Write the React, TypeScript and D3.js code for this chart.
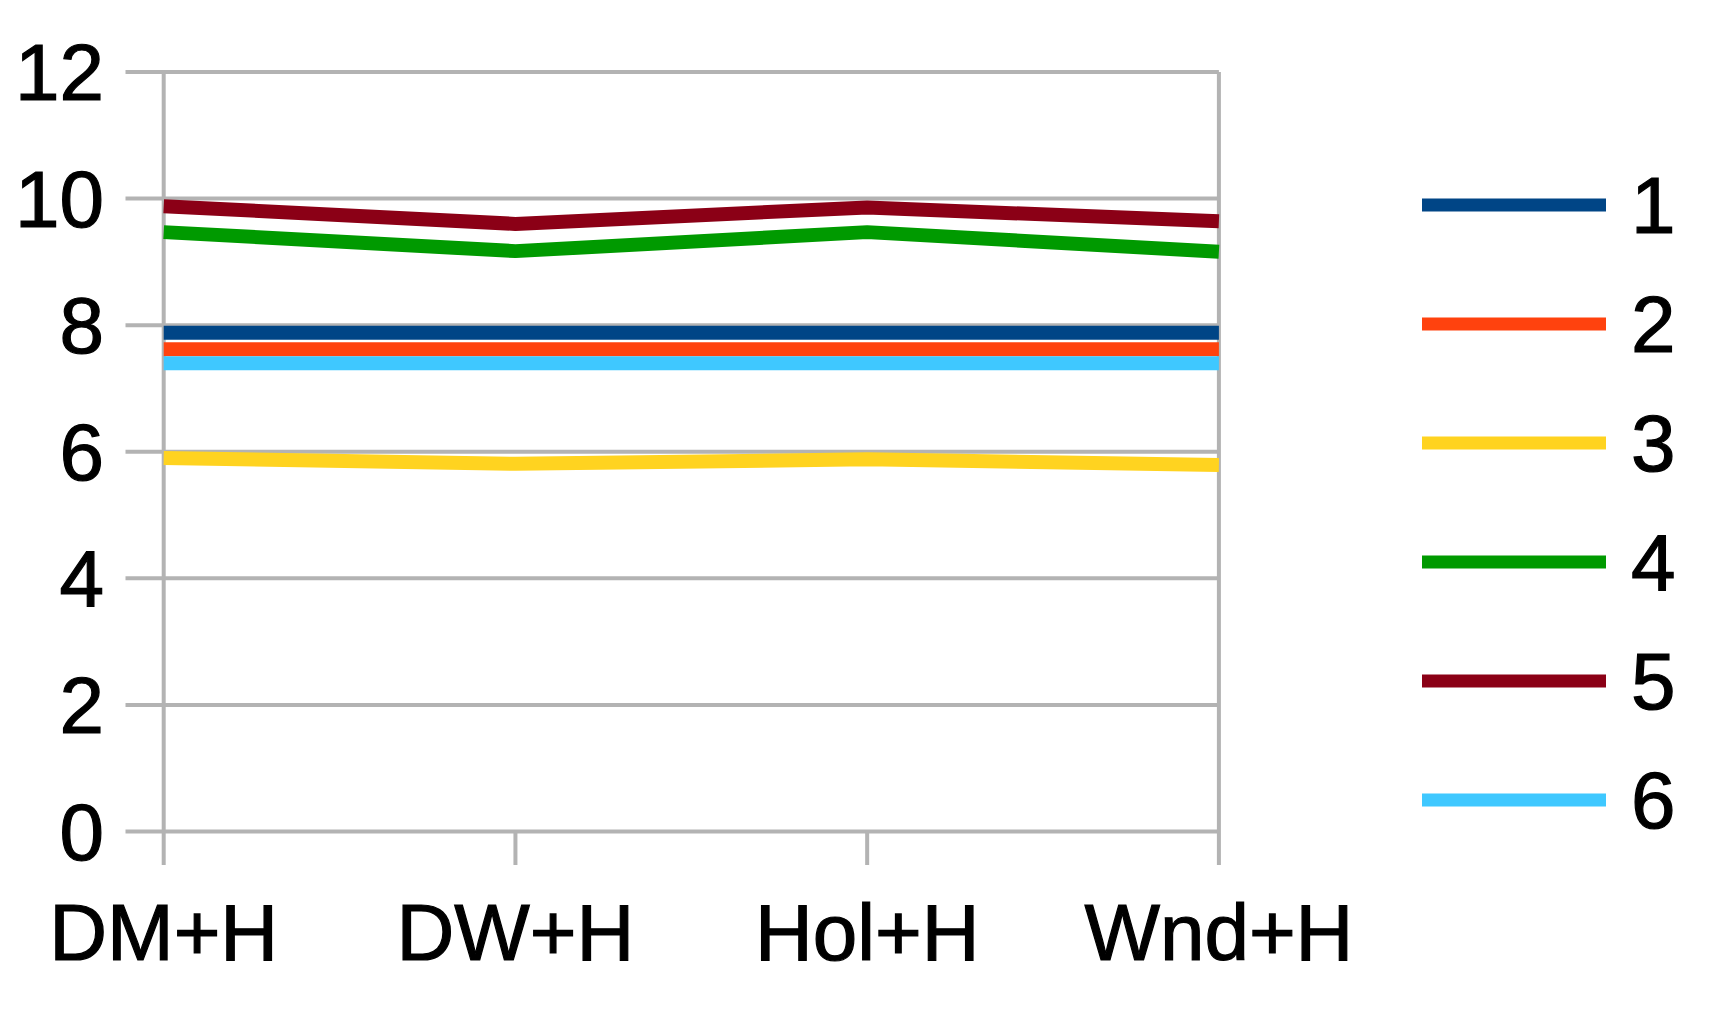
import React from "react";
import * as d3 from "d3";

const categories = ["DM+H", "DW+H", "Hol+H", "Wnd+H"];
const seriesNames = ["1", "2", "3", "4", "5", "6"];
const s1 = [7.88, 7.88, 7.88, 7.88];
const s2 = [7.62, 7.62, 7.62, 7.62];
const s3 = [5.9, 5.81, 5.88, 5.79];
const s4 = [9.47, 9.17, 9.47, 9.16];
const s5 = [9.88, 9.6, 9.86, 9.64];
const s6 = [7.4, 7.4, 7.4, 7.4];
const seriesValues = [s1, s2, s3, s4, s5, s6];
const colors = ["#004586", "#ff420e", "#ffd320", "#009a00", "#8b0016", "#3fc8ff"];
const yTicks = [0, 2, 4, 6, 8, 10, 12];

export default function App() {
  const W = 1711, H = 1017;
  const left = 163.7, right = 1218.9, top = 72, bottom = 831.5;
  const x = d3.scalePoint<string>().domain(categories).range([left, right]);
  const y = d3.scaleLinear().domain([0, 12]).range([bottom, top]);
  const line = d3
    .line<number>()
    .x((_, i) => x(categories[i]) as number)
    .y((d) => y(d));
  const font = "'Liberation Sans', Arial, sans-serif";
  const grid = "#b3b3b3";
  const legendYs = d3.range(seriesNames.length).map((i) => 205 + i * 119);
  const fs = 80;
  return (
    <svg
      width={W}
      height={H}
      style={{ position: "absolute", left: 0, top: 0, background: "#fff" }}
      fontFamily={font}
    >
      {yTicks.map((t) => (
        <g key={"g" + t}>
          <line x1={125.5} x2={right} y1={y(t)} y2={y(t)} stroke={grid} strokeWidth={4} />
          <text x={104} y={y(t)} dy="0.35em" textAnchor="end" fontSize={fs} fill="#000" stroke="#000" strokeWidth={1.2}>
            {t}
          </text>
        </g>
      ))}
      {categories.map((c) => (
        <g key={c}>
          <line
            x1={x(c)}
            x2={x(c)}
            y1={c === categories[0] || c === categories[categories.length - 1] ? top : bottom}
            y2={865}
            stroke={grid}
            strokeWidth={4}
          />
          <text x={x(c)} y={960} textAnchor="middle" fontSize={fs} fill="#000" stroke="#000" strokeWidth={1.2}>
            {c}
          </text>
        </g>
      ))}
      {seriesValues.map((vals, i) => (
        <path
          key={"s" + i}
          d={line(vals) || ""}
          fill="none"
          stroke={colors[i]}
          strokeWidth={14}
          strokeLinejoin="round"
        />
      ))}
      {seriesNames.map((n, i) => (
        <g key={"l" + n}>
          <line x1={1422} x2={1606} y1={legendYs[i]} y2={legendYs[i]} stroke={colors[i]} strokeWidth={13} />
          <text x={1631} y={legendYs[i]} dy="0.35em" fontSize={fs} fill="#000" stroke="#000" strokeWidth={1.2}>
            {n}
          </text>
        </g>
      ))}
    </svg>
  );
}
